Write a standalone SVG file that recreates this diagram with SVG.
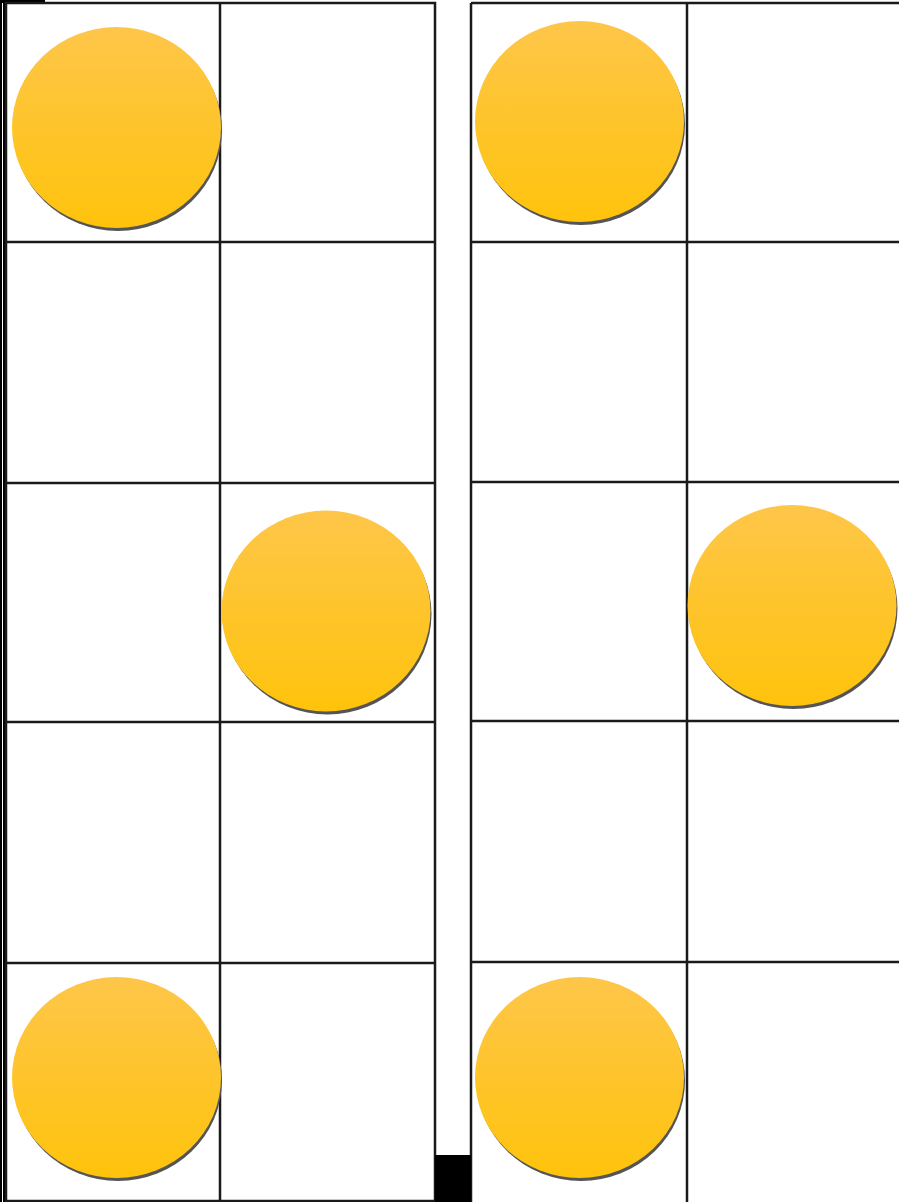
<svg xmlns="http://www.w3.org/2000/svg" width="899" height="1202" viewBox="0 0 899 1202">
<style>
.g{fill:none;stroke:#1a1a1a;stroke-width:2.5}
.sh{fill:#555}
.c{fill:url(#yg)}
</style>
<defs>
<linearGradient id="yg" x1="0" y1="0" x2="0" y2="1">
<stop offset="0" stop-color="#FEC64A"/>
<stop offset="1" stop-color="#FFC30C"/>
</linearGradient>
</defs>
<rect width="899" height="1202" fill="#fff"/>
<g id="leftEdge">
<rect x="0" y="0" width="2" height="1202" fill="#000"/>
<rect x="3" y="0" width="4" height="1202" fill="#000"/>
<rect x="0" y="0" width="45" height="3" fill="#000"/>
</g>
<g id="connectors">
<g id="leftGrid" class="g">
<rect x="6" y="3" width="429" height="1198"/>
<line x1="220" y1="3" x2="220" y2="1201"/>
<line x1="6" y1="242" x2="435" y2="242"/>
<line x1="6" y1="483" x2="435" y2="483"/>
<line x1="6" y1="722" x2="435" y2="722"/>
<line x1="6" y1="963" x2="435" y2="963"/>
</g>
<g id="rightGrid" class="g">
<line x1="471" y1="3" x2="899" y2="3"/>
<line x1="471" y1="3" x2="471" y2="1202"/>
<line x1="687" y1="3" x2="687" y2="1202"/>
<line x1="471" y1="242" x2="899" y2="242"/>
<line x1="471" y1="482" x2="899" y2="482"/>
<line x1="471" y1="721" x2="899" y2="721"/>
<line x1="471" y1="962" x2="899" y2="962"/>
</g>
</g>
<rect id="block" x="435" y="1155" width="36" height="47" fill="#000"/>
<g id="c1"><ellipse class="sh" cx="118" cy="130.5" rx="104" ry="100.5"/><ellipse class="c" cx="116.5" cy="127.5" rx="104.5" ry="100.5"/></g>
<g id="c2"><ellipse class="sh" cx="327.5" cy="614" rx="104" ry="100.5"/><ellipse class="c" cx="326" cy="611" rx="104.5" ry="100.5"/></g>
<g id="c3"><ellipse class="sh" cx="118" cy="1080.5" rx="104" ry="100.5"/><ellipse class="c" cx="116.5" cy="1077.5" rx="104.5" ry="100.5"/></g>
<g id="c4"><ellipse class="sh" cx="581" cy="124.5" rx="104" ry="100.5"/><ellipse class="c" cx="579.5" cy="121.5" rx="104.5" ry="100.5"/></g>
<g id="c5"><ellipse class="sh" cx="793.5" cy="608.5" rx="104" ry="100.5"/><ellipse class="c" cx="792" cy="605.5" rx="104.5" ry="100.5"/></g>
<g id="c6"><ellipse class="sh" cx="581" cy="1080.5" rx="104" ry="100.5"/><ellipse class="c" cx="579.5" cy="1077.5" rx="104.5" ry="100.5"/></g>
</svg>
